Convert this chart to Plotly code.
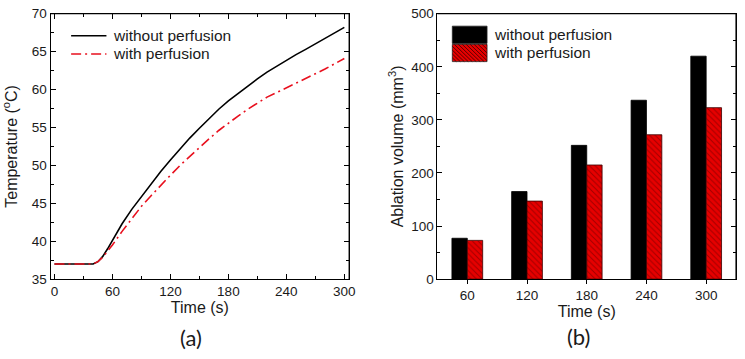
import plotly.graph_objects as go

# ---- Data: panel (a) temperature vs time ----
time_s = [0, 10, 20, 30, 40, 45, 50, 55, 60, 70, 80, 90, 100, 110, 120, 130, 140,
          150, 160, 170, 180, 190, 200, 210, 220, 230, 240, 250, 260, 270, 280, 290, 300]
temp_without = [37.0, 37.0, 37.0, 37.0, 37.0, 37.3, 38.0, 39.0, 40.1, 42.3, 44.2, 45.9,
                47.6, 49.2, 50.7, 52.2, 53.6, 54.9, 56.2, 57.4, 58.5, 59.5, 60.5, 61.4,
                62.3, 63.1, 63.9, 64.6, 65.3, 66.0, 66.7, 67.4, 68.2]
temp_with = [37.0, 37.0, 37.0, 37.0, 37.0, 37.3, 37.9, 38.7, 39.5, 41.3, 43.0, 44.6,
             46.0, 47.4, 48.7, 50.0, 51.2, 52.4, 53.5, 54.6, 55.6, 56.5, 57.4, 58.2,
             59.0, 59.6, 60.2, 60.8, 61.4, 62.0, 62.7, 63.4, 64.1]

# ---- Data: panel (b) ablation volume ----
bar_times = [60, 120, 180, 240, 300]
vol_without = [77, 165, 252, 337, 420]
vol_with = [73, 147, 215, 272, 323]

series_names = ["without perfusion", "with perfusion"]
temp_ticks = [35, 40, 45, 50, 55, 60, 65, 70]
time_ticks = [0, 60, 120, 180, 240, 300]
time_minor = [30, 90, 150, 210, 270]
vol_ticks = [0, 100, 200, 300, 400, 500]

FONT = "Liberation Sans, Arial, sans-serif"
RED = "#e8101e"
BAR_RED = "#e60000"
HATCH = "#5a0000"
TXT = "#1a1a1a"
W, H = 745, 359


def px_x(p):
    return p / W


def px_y(p):
    return (H - p) / H


fig = go.Figure()

fig.add_trace(go.Scatter(x=time_s, y=temp_without, mode="lines", name=series_names[0],
                         line=dict(color="black", width=1.6), xaxis="x", yaxis="y",
                         showlegend=False))
fig.add_trace(go.Scatter(x=time_s, y=temp_with, mode="lines", name=series_names[1],
                         line=dict(color=RED, width=1.6, dash="10px,4px,2px,4px"),
                         xaxis="x", yaxis="y", showlegend=False))

fig.add_trace(go.Bar(x=bar_times, y=vol_without, name=series_names[0],
                     marker=dict(color="black", line=dict(color="black", width=0.8)),
                     xaxis="x2", yaxis="y2", showlegend=False))
fig.add_trace(go.Bar(x=bar_times, y=vol_with, name=series_names[1],
                     marker=dict(color=BAR_RED, line=dict(color="#3a0000", width=0.8),
                                 pattern=dict(shape="\\", fgcolor=HATCH, size=4,
                                              solidity=0.25)),
                     xaxis="x2", yaxis="y2", showlegend=False))

axis_common = dict(showline=True, linecolor="black", linewidth=1, showgrid=False,
                   zeroline=False, tickcolor="black", ticklabeloverflow="allow",
                   mirror="ticks",
                   tickfont=dict(family=FONT, size=13.5, color=TXT))
title_font = dict(family=FONT, size=16, color=TXT)

# plot areas in pixels (left, right, top, bottom)
P1 = (51, 352, 7, 284)
P2 = (441, 742, 7, 284)
ydom = [px_y(P1[3]), px_y(P1[2])]
xdom1 = [px_x(P1[0]), px_x(P1[1])]
xdom2 = [px_x(P2[0]), px_x(P2[1])]
xr1 = [-4, 305]
yr1 = [35, 70]
yr2 = [0, 500]

shapes = []
# plot frames: top and right edges (paper coordinates)
for (l, r, t, b) in (P1, P2):
    shapes.append(dict(type="line", xref="paper", yref="paper",
                       x0=px_x(l), x1=px_x(r), y0=px_y(t), y1=px_y(t),
                       line=dict(color="black", width=1.2), layer="above"))
    shapes.append(dict(type="line", xref="paper", yref="paper",
                       x0=px_x(r), x1=px_x(r), y0=px_y(b), y1=px_y(t),
                       line=dict(color="black", width=1.2), layer="above"))

annotations = []
LEG_FONT = dict(family=FONT, size=15.5, color=TXT)

# legend (a): line samples + labels
leg_a_rows = [30, 49]
leg_a_styles = [dict(color="black", width=1.6), dict(color=RED, width=1.6,
                                                      dash="10px,4px,2px,4px")]
for row, style, name in zip(leg_a_rows, leg_a_styles, series_names):
    shapes.append(dict(type="line", xref="paper", yref="paper",
                       x0=px_x(71.7), x1=px_x(107.3), y0=px_y(row), y1=px_y(row),
                       line=style))
    annotations.append(dict(text=name, x=px_x(111.5), y=px_y(row), xref="paper",
                            yref="paper", xanchor="left", yanchor="middle",
                            showarrow=False, font=LEG_FONT))

# legend (b): boxes + labels
bx0, bx1 = 456, 491
leg_b_boxes = [(20, 38), (39, 57)]
leg_b_fill = ["black", BAR_RED]
for (t, b), fill, name in zip(leg_b_boxes, leg_b_fill, series_names):
    shapes.append(dict(type="rect", xref="paper", yref="paper",
                       x0=px_x(bx0), x1=px_x(bx1), y0=px_y(b), y1=px_y(t),
                       fillcolor=fill, line=dict(color="#222", width=0.8)))
    annotations.append(dict(text=name, x=px_x(496), y=px_y((t + b) / 2), xref="paper",
                            yref="paper", xanchor="left", yanchor="middle",
                            showarrow=False, font=LEG_FONT))
# hatch inside the red legend box ("\" direction), clipped to the box
t, b = leg_b_boxes[1]
hgt = b - t
step = 4
k = -hgt
while k < (bx1 - bx0):
    ya, yb = t, b
    xa, xb = bx0 + k, bx0 + k + hgt
    if xa < bx0:
        ya = t + (bx0 - xa)
        xa = bx0
    if xb > bx1:
        yb = b - (xb - bx1)
        xb = bx1
    if xb > xa + 0.5:
        shapes.append(dict(type="line", xref="paper", yref="paper",
                           x0=px_x(xa), x1=px_x(xb), y0=px_y(ya), y1=px_y(yb),
                           line=dict(color=HATCH, width=1)))
    k += step

annotations += [
    dict(text="(a)", x=px_x(193), y=px_y(345), xref="paper", yref="paper",
         xanchor="center", yanchor="middle", showarrow=False,
         font=dict(family="Lato, Open Sans, sans-serif", size=22, color=TXT)),
    dict(text="(b)", x=px_x(583), y=px_y(344), xref="paper", yref="paper",
         xanchor="center", yanchor="middle", showarrow=False,
         font=dict(family="Lato, Open Sans, sans-serif", size=22, color=TXT)),
]

fig.update_layout(
    width=W, height=H,
    margin=dict(l=0, r=0, t=0, b=0),
    paper_bgcolor="white", plot_bgcolor="white",
    font=dict(family=FONT, color=TXT),
    barmode="group", bargap=0.485, bargroupgap=0,
    showlegend=False,
    xaxis=dict(**axis_common, domain=xdom1, range=xr1,
               tickmode="array", tickvals=time_ticks,
               ticks="inside", ticklen=5,
               minor=dict(ticks="inside", ticklen=3, tickvals=time_minor,
                          tickcolor="black"),
               title=dict(text="Time (s)", font=title_font, standoff=3),
               anchor="y"),
    yaxis=dict(**axis_common, domain=ydom, range=yr1,
               tickmode="array", tickvals=temp_ticks,
               ticks="inside", ticklen=5,
               minor=dict(ticks="inside", ticklen=3, dtick=2.5, tickcolor="black"),
               title=dict(text="Temperature (<sup>o</sup>C)", font=title_font, standoff=17),
               anchor="x"),
    xaxis2=dict(**{**axis_common, "mirror": True}, domain=xdom2, range=[30, 330],
                tickmode="array", tickvals=bar_times,
                ticks="outside", ticklen=4,
                title=dict(text="Time (s)", font=title_font, standoff=3),
                anchor="y2"),
    yaxis2=dict(**axis_common, domain=ydom, range=yr2,
                tickmode="array", tickvals=vol_ticks,
                ticks="inside", ticklen=5,
                minor=dict(ticks="inside", ticklen=3, dtick=50, tickcolor="black"),
                title=dict(text="Ablation volume (mm<sup>3</sup>)", font=title_font,
                           standoff=3),
                anchor="x2"),
    shapes=shapes,
    annotations=annotations,
)

fig.write_html("out.html",
               config={"displayModeBar": False},
               post_script="document.body.style.margin='0';"
                           "document.documentElement.style.overflow='hidden';")
